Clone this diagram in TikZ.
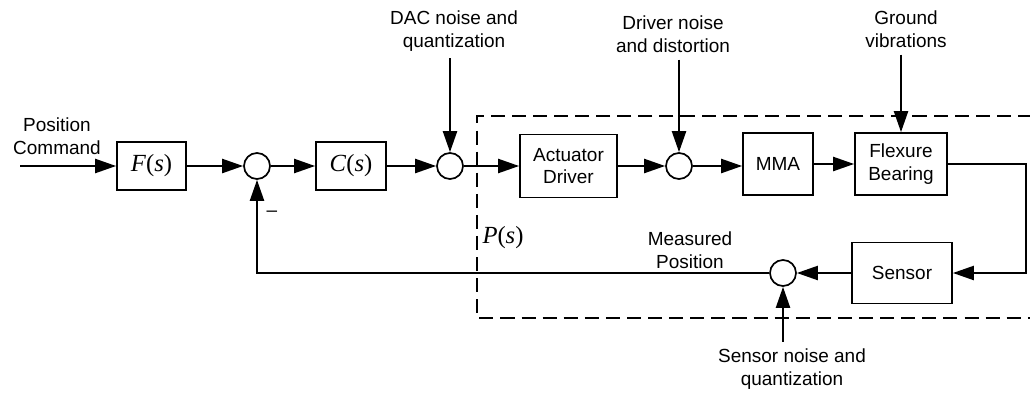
\documentclass[tikz,border=0pt]{standalone}
\usepackage{fontspec}
\setmainfont{Liberation Sans}
\newfontfamily\tnr{Liberation Serif}
\usepackage{tikz}
\usetikzlibrary{
  arrows.meta,
  positioning,
  calc
}
\newcommand{\tfun}[1]{{\tnr\itshape #1\/}{\tnr(}{\tnr\itshape s}{\tnr)}}
\tikzset{
  block/.style={
    rectangle,
    draw,
    line width=1.2pt,
    align=center,
    inner sep=2pt,
    font=\fontsize{13.5}{16}\selectfont
  },
  tfblock/.style={
    block,
    font=\fontsize{17.5}{20}\selectfont
  },
  sumnode/.style={
    circle,
    draw,
    line width=1.2pt,
    minimum size=0.65cm,
    inner sep=0pt
  },
  lbl/.style={
    align=center,
    inner sep=1pt,
    font=\fontsize{13.5}{16}\selectfont
  },
  arrow/.style={
    -{Triangle[length=15pt,width=10pt]},
    line width=1.6pt
  },
  plantbox/.style={
    dash pattern=on 10pt off 5pt,
    line width=1.2pt
  }
}

\begin{document}
\begin{tikzpicture}[x=0.025cm,y=-0.025cm]
\useasboundingbox (0,0) rectangle (1030,395);

% plant boundary
\draw[plantbox] (1032,116) -- (477,116) -- (477,318) -- (1032,318);
\node[lbl,font=\fontsize{17.5}{20}\selectfont] (ps) at (503,238) {\tfun{P}};

% forward path
\coordinate (in) at (20,166);
\node[lbl] (cmd) at (57,136) {Position\\Command};
\node[tfblock,minimum width=1.725cm,minimum height=1.2cm] (F) at (151.5,166) {\tfun{F}};
\node[sumnode] (s1) at (257,166) {};
\node[tfblock,minimum width=1.75cm,minimum height=1.2cm] (C) at (351,166) {\tfun{C}};
\node[sumnode] (s2) at (450,166) {};
\node[block,minimum width=2.425cm,minimum height=1.575cm] (act) at (568.5,166) {Actuator\\Driver};
\node[sumnode] (s3) at (679,166) {};
\node[block,minimum width=1.75cm,minimum height=1.55cm] (mma) at (778,164) {MMA};
\node[block,minimum width=2.3cm,minimum height=1.55cm] (flex) at (901,164) {Flexure\\Bearing};

% feedback path
\node[block,minimum width=2.5cm,minimum height=1.525cm] (sensor) at (902,273) {Sensor};
\node[sumnode] (s4) at (783,273) {};
\node[lbl] (meas) at (690,250) {Measured\\Position};
\node[lbl] (minus) at (272,214) {--};

% disturbances
\node[lbl] (dac) at (454,31) {DAC noise and\\quantization};
\node[lbl] (drv) at (673,34) {Driver noise\\and distortion};
\node[lbl] (gnd) at (906,29) {Ground\\vibrations};
\node[lbl] (sn) at (792,369) {Sensor noise and\\quantization};

\draw[arrow] (in) -- (F);
\draw[arrow] (F) -- (s1);
\draw[arrow] (s1) -- (C);
\draw[arrow] (C) -- (s2);
\draw[arrow] (s2) -- (act);
\draw[arrow] (act) -- (s3);
\draw[arrow] (s3) -- (s3 -| mma.west);
\draw[arrow] (mma) -- (flex);
\draw[arrow] (flex.east) -- ++(78,0) |- (sensor.east);
\draw[arrow] (sensor) -- (s4);
\draw[arrow] (s4.west) -| (s1.south);

\draw[arrow] ([yshift=-4pt]s2 |- dac.south) -- (s2.north);
\draw[arrow] ([yshift=-4pt]s3 |- drv.south) -- (s3.north);
\draw[arrow] ([yshift=-4pt]flex |- gnd.south) -- (flex.north);
\draw[arrow] ([yshift=4pt]s4 |- sn.north) -- (s4.south);
\end{tikzpicture}
\end{document}
